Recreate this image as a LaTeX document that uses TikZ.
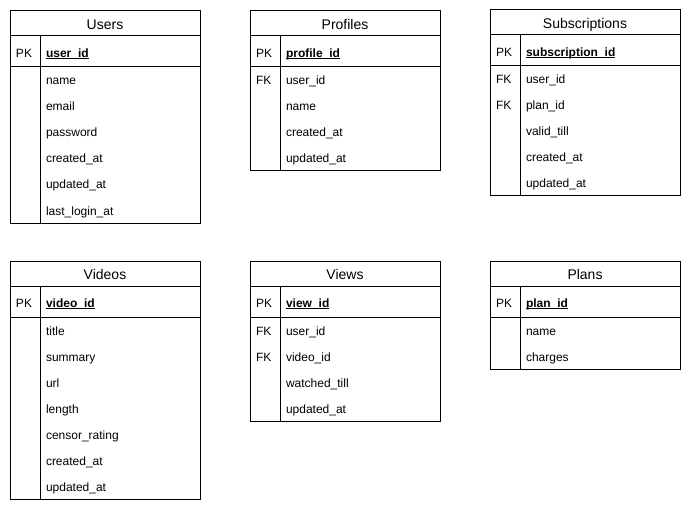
\documentclass[tikz,border=0pt]{standalone}
\usepackage{fontspec}
\setmainfont{Liberation Sans}
\usetikzlibrary{calc}

% bold, underlined primary-key field name
\newcommand\pkname[1]{\setbox0\hbox{\bfseries #1}\rlap{\rule[-1.6pt]{\wd0}{0.7pt}}\box0}

\tikzset{
  x=0.75pt, y=-0.75pt,
  tblline/.style={draw=black, line width=0.75pt},
  tblbox/.style={tblline, rectangle, inner sep=0pt, outer sep=0pt,
    minimum width=142.5pt, anchor=north west},
  tbltitle/.style={tblbox, minimum height=18.75pt, font=\fontsize{10.5pt}{12pt}\selectfont,
    text height=9.5pt, text depth=1pt},
  tblpk/.style={tblbox, minimum height=23.25pt},
  tblbody/.style={tblbox},
  celltext/.style={inner sep=0pt, outer sep=0pt, anchor=base west,
    font=\fontsize{9pt}{10pt}\selectfont},
}

% table frame: #1 id, #2 left, #3 top, #4 title, #5 body rows, #6 primary key
\newcommand\ertable[6]{%
  \node[tbltitle] (#1-title) at (#2,#3) {#4};
  \node[tblpk] (#1-pk) at (#2,#3+25) {};
  \node[tblbody, minimum height=#5*19.5pt] (#1-body) at (#2,#3+56) {};
  \draw[tblline] ($(#1-pk.north west)+(30,0)$) -- ($(#1-body.south west)+(30,0)$);
  \node[celltext] (#1-pktag) at ($(#1-pk.north west)+(6,21.2)$) {PK};
  \node[celltext] (#1-pkfield) at ($(#1-pk.north west)+(36,21.2)$) {\pkname{#6}};
}
% body field: #1 table id, #2 row index, #3 node id, #4 text
\newcommand\erfield[4]{%
  \node[celltext] (#1-#3) at ($(#1-body.north west)+(36,18+26*#2)$) {#4};
}
% foreign-key tag in front of body row: #1 table id, #2 row index, #3 node id
\newcommand\erfk[3]{%
  \node[celltext] (#1-#3) at ($(#1-body.north west)+(6,18+26*#2)$) {FK};
}

\begin{document}
\begin{tikzpicture}
\useasboundingbox (0,0) rectangle (691,513);
\fill[white] (0,0) rectangle (691,513);

% Users
\ertable{users}{10}{11}{Users}{6}{user\_id}
\erfield{users}{0}{name}{name}
\erfield{users}{1}{email}{email}
\erfield{users}{2}{password}{password}
\erfield{users}{3}{created}{created\_at}
\erfield{users}{4}{updated}{updated\_at}
\erfield{users}{5}{lastlogin}{last\_login\_at}

% Profiles
\ertable{profiles}{250}{11}{Profiles}{4}{profile\_id}
\erfk{profiles}{0}{fkuser}
\erfield{profiles}{0}{userid}{user\_id}
\erfield{profiles}{1}{name}{name}
\erfield{profiles}{2}{created}{created\_at}
\erfield{profiles}{3}{updated}{updated\_at}

% Subscriptions
\ertable{subs}{490}{10}{Subscriptions}{5}{subscription\_id}
\erfk{subs}{0}{fkuser}
\erfk{subs}{1}{fkplan}
\erfield{subs}{0}{userid}{user\_id}
\erfield{subs}{1}{planid}{plan\_id}
\erfield{subs}{2}{valid}{valid\_till}
\erfield{subs}{3}{created}{created\_at}
\erfield{subs}{4}{updated}{updated\_at}

% Videos
\ertable{videos}{10}{261}{Videos}{7}{video\_id}
\erfield{videos}{0}{title}{title}
\erfield{videos}{1}{summary}{summary}
\erfield{videos}{2}{url}{url}
\erfield{videos}{3}{length}{length}
\erfield{videos}{4}{censor}{censor\_rating}
\erfield{videos}{5}{created}{created\_at}
\erfield{videos}{6}{updated}{updated\_at}

% Views
\ertable{views}{250}{261}{Views}{4}{view\_id}
\erfk{views}{0}{fkuser}
\erfk{views}{1}{fkvideo}
\erfield{views}{0}{userid}{user\_id}
\erfield{views}{1}{videoid}{video\_id}
\erfield{views}{2}{watched}{watched\_till}
\erfield{views}{3}{updated}{updated\_at}

% Plans
\ertable{plans}{490}{261}{Plans}{2}{plan\_id}
\erfield{plans}{0}{name}{name}
\erfield{plans}{1}{charges}{charges}
\end{tikzpicture}
\end{document}
